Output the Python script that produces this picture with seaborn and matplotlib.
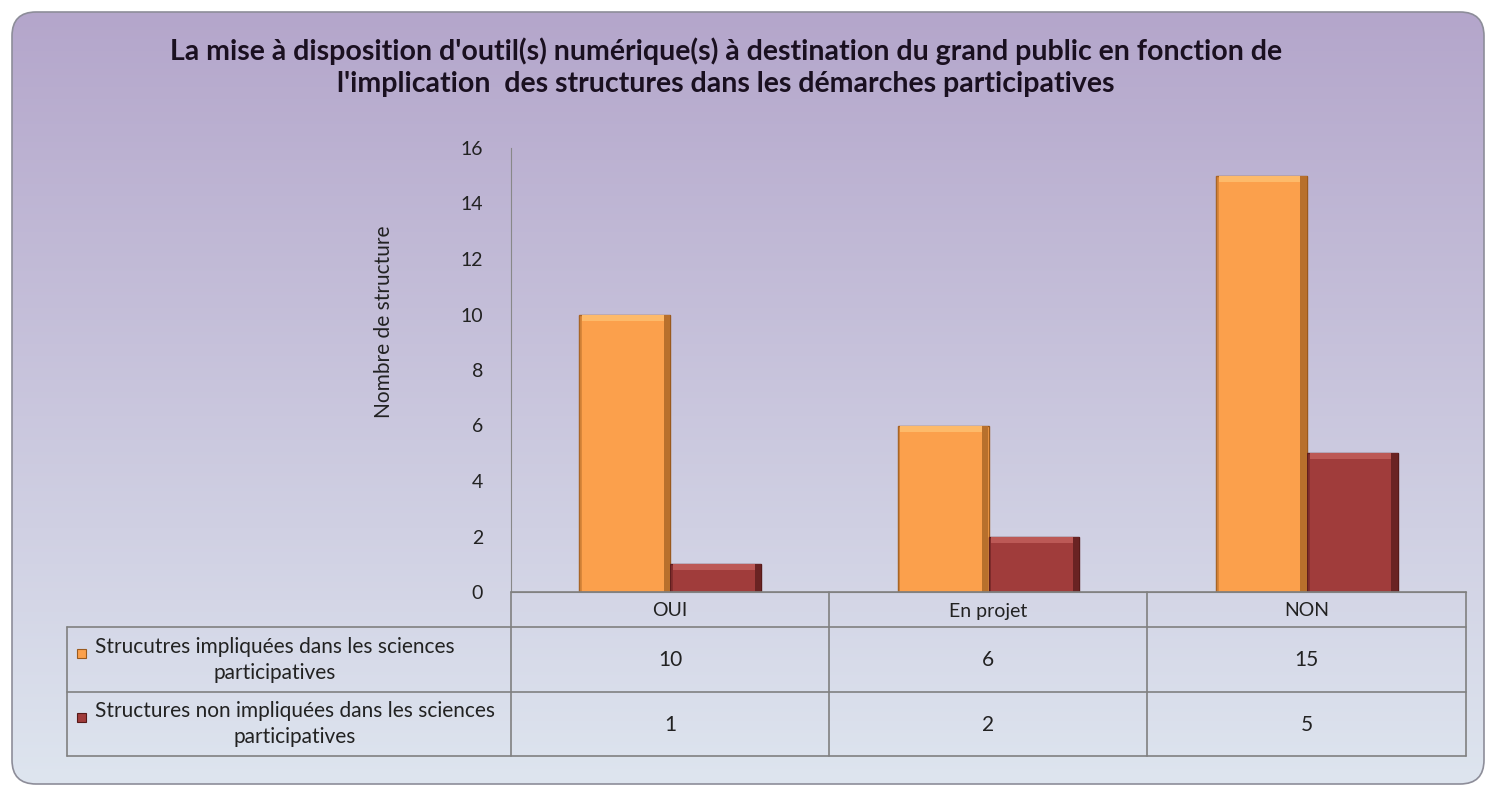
import numpy as np
import pandas as pd
import matplotlib
matplotlib.use('Agg')
import matplotlib.pyplot as plt
import seaborn as sns
from matplotlib.patches import FancyBboxPatch, Rectangle
from matplotlib.lines import Line2D

categories = ['OUI', 'En projet', 'NON']
series_names = ['Strucutres impliquées dans les sciences\nparticipatives',
                'Structures non impliquées dans les sciences\nparticipatives']
impliquees = [10, 6, 15]
non_impliquees = [1, 2, 5]
y_ticks = [0, 2, 4, 6, 8, 10, 12, 14, 16]
colors = ['#FBA04C', '#A03C3B']
edges = ['#9A5A1E', '#571a19']
shade = ['#B8702C', '#6A2323']
light = ['#FDBA6A', '#BC5956']

title = ("La mise à disposition d'outil(s) numérique(s) à destination du grand public en fonction de\n"
         "l'implication  des structures dans les démarches participatives")

df = pd.DataFrame({
    'cat': categories * 2,
    'serie': [series_names[0]] * 3 + [series_names[1]] * 3,
    'val': impliquees + non_impliquees,
})

sns.set_style('white')
plt.rcParams['font.family'] = ['Lato', 'DejaVu Sans']

W, H = 1490, 787
fig = plt.figure(figsize=(W / 100, H / 100), dpi=100)
fig.patch.set_facecolor('white')


def fx(px):
    return px / W


def fy(py):
    return 1 - py / H


# background panel with gradient
bg = fig.add_axes([0, 0, 1, 1])
bg.set_xlim(0, W)
bg.set_ylim(H, 0)
bg.axis('off')
grad = np.linspace(0, 1, 256)[:, None]
top = np.array([0.706, 0.651, 0.796])
bot = np.array([0.870, 0.898, 0.937])
img = top[None, None, :] * (1 - grad[:, :, None]) + bot[None, None, :] * grad[:, :, None]
panel = FancyBboxPatch((12, 12), 1472, 772, boxstyle='round,pad=0,rounding_size=24',
                       facecolor='none', edgecolor='#8d8d99', linewidth=1.2, zorder=3)
bg.add_patch(panel)
im = bg.imshow(img, extent=(12, 1484, 784, 12), aspect='auto', zorder=1)
im.set_clip_path(panel)

# main axes
x0, x1, yb, yt = 511, 1466, 592, 148
ax = fig.add_axes([fx(x0), fy(yb), fx(x1 - x0), (yb - yt) / H])
ax.patch.set_alpha(0)
sns.barplot(data=df, x='cat', y='val', hue='serie', order=categories,
            hue_order=series_names, palette=colors, width=0.57, ax=ax,
            legend=False, saturation=1)

# bevel look: shadow on the sides, highlight on top
for i, cont in enumerate(ax.containers):
    for bar in cont:
        bar.set_edgecolor(edges[i])
        bar.set_linewidth(1.0)
        bx, bw, bh = bar.get_x(), bar.get_width(), bar.get_height()
        ax.add_patch(Rectangle((bx + bw * 0.93, 0), bw * 0.07, bh,
                               facecolor=shade[i], edgecolor='none', zorder=3))
        ax.add_patch(Rectangle((bx, 0), bw * 0.03, bh,
                               facecolor=shade[i], edgecolor='none', alpha=0.5, zorder=3))
        ax.add_patch(Rectangle((bx + bw * 0.03, bh - 0.22), bw * 0.9, 0.22,
                               facecolor=light[i], edgecolor='none', zorder=3))
ax.set_xlim(-0.5, 2.5)
ax.set_ylim(0, 16)
ax.set_yticks(y_ticks)
ax.tick_params(axis='y', length=0, pad=20, labelsize=14, labelcolor='#222222')
ax.set_xticks([])
ax.set_xlabel('')
ax.set_ylabel('')
for s in ['top', 'right']:
    ax.spines[s].set_visible(False)
ax.spines['left'].set_color('#888888')
ax.spines['bottom'].set_color('#888888')

fig.text(fx(384), fy(322), 'Nombre de structure', rotation=90, ha='center',
         va='center', fontsize=15, color='#222222')

fig.text(fx(726), fy(67), title, ha='center', va='center', fontsize=20.5,
         fontweight='bold', color='#1a1020', linespacing=1.3)

# data table
lc = '#808080'
col_x = [511, 829, 1147, 1466]
row_y = [592, 627, 692, 756]
lines = []
for xv in col_x:
    lines.append(((xv, xv), (592, 756)))
lines.append(((67, 67), (627, 756)))
lines.append(((511, 1466), (592, 592)))
for yv in row_y[1:]:
    lines.append(((67, 1466), (yv, yv)))
for xs, ys in lines:
    fig.add_artist(Line2D([fx(xs[0]), fx(xs[1])], [fy(ys[0]), fy(ys[1])],
                          color=lc, linewidth=1.2))

for j, c in enumerate(categories):
    cx = (col_x[j] + col_x[j + 1]) / 2
    fig.text(fx(cx), fy(611), c, ha='center', va='center', fontsize=14, color='#222222')
    fig.text(fx(cx), fy(660), str(impliquees[j]), ha='center', va='center',
             fontsize=15, color='#222222')
    fig.text(fx(cx), fy(725), str(non_impliquees[j]), ha='center', va='center',
             fontsize=15, color='#222222')

for k, (name, yc) in enumerate(zip(series_names, [660, 724])):
    fig.text(fx(95), fy(yc), name, ha='left', va='center', fontsize=15,
             color='#222222', linespacing=1.35, multialignment='center')
    fig.add_artist(Rectangle((fx(77), fy(yc - 11) - 9 / H), 9 / W, 9 / H,
                             facecolor=colors[k], edgecolor=edges[k], linewidth=0.8))

fig.savefig('out.png', dpi=100)
